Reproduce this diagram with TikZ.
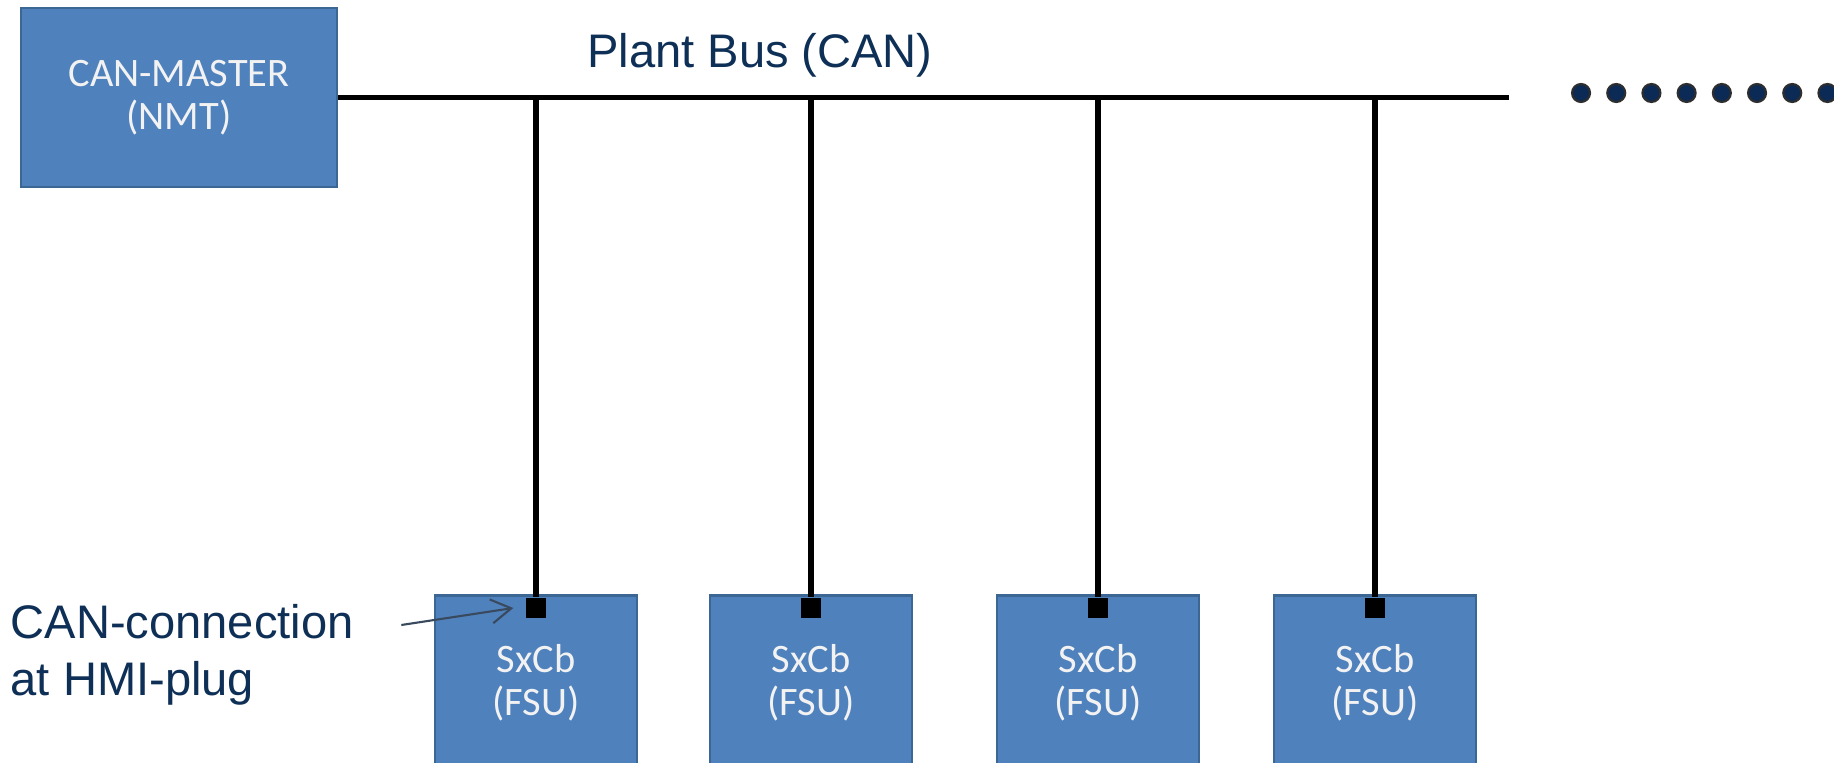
\documentclass[tikz,border=0pt]{standalone}
\usepackage{fontspec}
\setmainfont{Liberation Sans}
\newfontfamily\boxfont{Carlito}
\usetikzlibrary{arrows.meta, positioning}
\definecolor{canBlue}{HTML}{4F81BD}
\definecolor{canEdge}{HTML}{3C6795}
\definecolor{labelNavy}{HTML}{0E2F56}
\definecolor{dotNavy}{HTML}{0B2A55}
\definecolor{dotEdge}{HTML}{2E2E2E}
\definecolor{arrowGray}{HTML}{3A4A5E}
\definecolor{boxText}{HTML}{F2F2F2}
\tikzset{
  busLine/.style={line width=1.5pt, black},
  arrowT/.style={-{Straight Barb[length=2mm, width=2.4mm]}, arrowGray, line width=0.6pt},
  boxMaster/.style={rectangle, draw=canEdge, fill=canBlue, line width=0.8pt,
                    text=boxText, align=center, inner sep=0pt,
                    font=\boxfont\fontsize{11.5pt}{12.2pt}\selectfont,
                    minimum width=3.16cm, minimum height=1.79cm},
  boxFsu/.style={boxMaster, minimum width=2.02cm, minimum height=1.74cm},
  plug/.style={rectangle, fill=black, inner sep=0pt, minimum size=0.2cm},
  labelT/.style={text=labelNavy, font=\fontsize{13.4pt}{16.2pt}\selectfont, inner sep=0pt},
}
\begin{document}
\begin{tikzpicture}
  \clip (0,0) rectangle (18.34,-7.63);
  \fill[white] (0,0) rectangle (18.34,-7.63);

  % master and bus
  \node[boxMaster] (master) at (1.79,-0.975) {CAN-MASTER\\(NMT)};
  \coordinate (busend) at (15.09,-0.975);
  \draw[busLine] (master.east) -- (busend);
  \node[labelT] (busname) at (7.60,-0.55) {Plant Bus (CAN)};

  % slaves on the bus
  \node[boxFsu, anchor=north] (fsuA) at (5.36,-5.94) {SxCb\\(FSU)};
  \node[boxFsu, anchor=north] (fsuB) at (8.11,-5.94) {SxCb\\(FSU)};
  \node[boxFsu, anchor=north] (fsuC) at (10.98,-5.94) {SxCb\\(FSU)};
  \node[boxFsu, anchor=north] (fsuD) at (13.75,-5.94) {SxCb\\(FSU)};
  \node[plug] (plugA) at ([yshift=-0.14cm]fsuA.north) {};
  \node[plug] (plugB) at ([yshift=-0.14cm]fsuB.north) {};
  \node[plug] (plugC) at ([yshift=-0.14cm]fsuC.north) {};
  \node[plug] (plugD) at ([yshift=-0.14cm]fsuD.north) {};
  \draw[busLine] (plugA.north |- master.east) -- (plugA.north);
  \draw[busLine] (plugB.north |- master.east) -- (plugB.north);
  \draw[busLine] (plugC.north |- master.east) -- (plugC.north);
  \draw[busLine] (plugD.north |- master.east) -- (plugD.north);

  % plug label
  \node[labelT, align=left, anchor=west] (conn) at (0.10,-6.55) {CAN-connection\\at HMI-plug};
  \draw[arrowT] ([shift={(0.47,0.30)}]conn.east) -- ([xshift=-0.12cm]plugA.west);

  % more nodes follow
  \foreach \k in {0,...,7}
    \draw[fill=dotNavy, draw=dotEdge, line width=0.6pt] (15.81+0.352*\k,-0.93) circle (0.09);
\end{tikzpicture}
\end{document}
